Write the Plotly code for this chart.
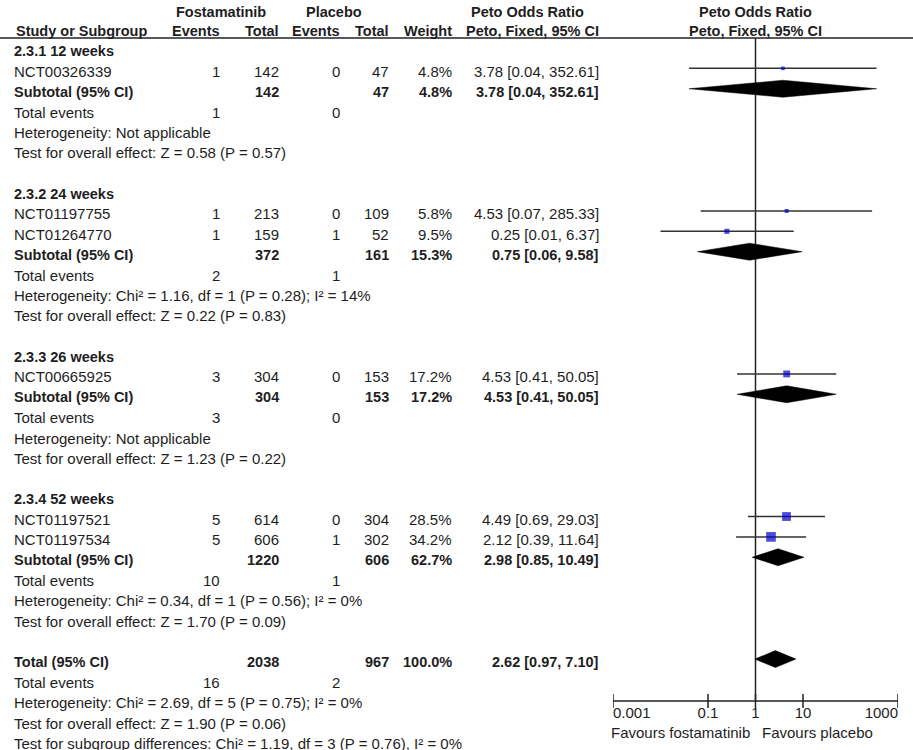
import numpy as np
import plotly.graph_objects as go

# study level data
studies = ["NCT00326339", "NCT01197755", "NCT01264770", "NCT00665925", "NCT01197521", "NCT01197534"]
study_group = [0, 1, 1, 2, 3, 3]
fos_events = [1, 1, 1, 3, 5, 5]
fos_total = [142, 213, 159, 304, 614, 606]
pla_events = [0, 0, 1, 0, 0, 1]
pla_total = [47, 109, 52, 153, 304, 302]
weight = [4.8, 5.8, 9.5, 17.2, 28.5, 34.2]
or_est = [3.78, 4.53, 0.25, 4.53, 4.49, 2.12]
or_lo = [0.04, 0.07, 0.01, 0.41, 0.69, 0.39]
or_hi = [352.61, 285.33, 6.37, 50.05, 29.03, 11.64]

# subgroup data
groups = ["2.3.1 12 weeks", "2.3.2 24 weeks", "2.3.3 26 weeks", "2.3.4 52 weeks"]
sub_fos_total = [142, 372, 304, 1220]
sub_pla_total = [47, 161, 153, 606]
sub_weight = [4.8, 15.3, 17.2, 62.7]
sub_est = [3.78, 0.75, 4.53, 2.98]
sub_lo = [0.04, 0.06, 0.41, 0.85]
sub_hi = [352.61, 9.58, 50.05, 10.49]
sub_fos_events = [1, 2, 3, 10]
sub_pla_events = [0, 1, 0, 1]
sub_het = ["Heterogeneity: Not applicable",
           "Heterogeneity: Chi² = 1.16, df = 1 (P = 0.28); I² = 14%",
           "Heterogeneity: Not applicable",
           "Heterogeneity: Chi² = 0.34, df = 1 (P = 0.56); I² = 0%"]
sub_test = ["Test for overall effect: Z = 0.58 (P = 0.57)",
            "Test for overall effect: Z = 0.22 (P = 0.83)",
            "Test for overall effect: Z = 1.23 (P = 0.22)",
            "Test for overall effect: Z = 1.70 (P = 0.09)"]

# overall
tot_fos_total, tot_pla_total = 2038, 967
tot_weight = 100.0
tot_est, tot_lo, tot_hi = 2.62, 0.97, 7.10
tot_fos_events, tot_pla_events = 16, 2
tot_het = "Heterogeneity: Chi² = 2.69, df = 5 (P = 0.75); I² = 0%"
tot_test = "Test for overall effect: Z = 1.90 (P = 0.06)"
subgroup_diff = "Test for subgroup differences: Chi² = 1.19, df = 3 (P = 0.76), I² = 0%"

tick_vals = [0.001, 0.1, 1, 10, 1000]
tick_text = ["0.001", "0.1", "1", "10", "1000"]

FONT = "Liberation Sans, Arial, sans-serif"
TXT = "#1e1e1e"
FS = 15      # normal text
FS_B = 14.5  # bold text

# row layout (pixels from top)
ROW0, STEP = 51, 20.37
def ypos(i):
    return ROW0 + STEP * i

# column positions (pixels)
X_LABEL = 12
X_EV1, X_TOT1, X_EV2, X_TOT2, X_WT, X_CI = 222, 281, 342, 391, 454, 601

annotations = []
def txt(x, y, s, anchor="left", bold=False):
    size = FS
    if bold:
        s = "<b>%s</b>" % s
        size = FS_B
    annotations.append(dict(x=x, y=y, xref="x", yref="y", text=s, showarrow=False,
                            xanchor=anchor, yanchor="middle",
                            font=dict(family=FONT, size=size, color=TXT)))

def ci_text(e, lo, hi):
    return "%.2f [%.2f, %.2f]" % (e, lo, hi)

fig = go.Figure()

# header
txt(221, 12, "Fostamatinib", "center", True)
txt(334, 12, "Placebo", "center", True)
txt(527, 12, "Peto Odds Ratio", "center", True)
txt(755, 12, "Peto Odds Ratio", "center", True)
txt(14, 31, "Study or Subgroup", "left", True)
txt(X_EV1, 31, "Events", "right", True)
txt(X_TOT1, 31, "Total", "right", True)
txt(X_EV2, 31, "Events", "right", True)
txt(X_TOT2, 31, "Total", "right", True)
txt(X_WT, 31, "Weight", "right", True)
txt(X_CI, 31, "Peto, Fixed, 95% CI", "right", True)
txt(755, 31, "Peto, Fixed, 95% CI", "center", True)

fig.add_trace(go.Scatter(x=[0, 913], y=[38, 38], xaxis="x", yaxis="y", mode="lines",
                         line=dict(color="#222", width=1.5), hoverinfo="skip"))

# vertical line of no effect
fig.add_trace(go.Scatter(x=[1, 1], y=[38, 701], xaxis="x2", mode="lines",
                         line=dict(color="#222", width=1.5), hoverinfo="skip"))

MARK_DY = -3
DIA_H = 8.5
ci_x, ci_y, sq_x, sq_y, sq_s = [], [], [], [], []
diamonds = []

row = 0
for g, name in enumerate(groups):
    txt(X_LABEL, ypos(row), name, "left", True)
    row += 1
    for i in range(len(studies)):
        if study_group[i] != g:
            continue
        y = ypos(row)
        txt(X_LABEL, y, studies[i])
        txt(X_EV1, y, str(fos_events[i]), "right")
        txt(X_TOT1, y, str(fos_total[i]), "right")
        txt(X_EV2, y, str(pla_events[i]), "right")
        txt(X_TOT2, y, str(pla_total[i]), "right")
        txt(X_WT, y, "%.1f%%" % weight[i], "right")
        txt(X_CI, y, ci_text(or_est[i], or_lo[i], or_hi[i]), "right")
        ci_x += [or_lo[i], or_hi[i], None]
        ci_y += [y + MARK_DY, y + MARK_DY, None]
        sq_x.append(or_est[i])
        sq_y.append(y + MARK_DY)
        sq_s.append(1.65 * np.sqrt(weight[i]))
        row += 1
    y = ypos(row)
    txt(X_LABEL, y, "Subtotal (95% CI)", "left", True)
    txt(X_TOT1, y, str(sub_fos_total[g]), "right", True)
    txt(X_TOT2, y, str(sub_pla_total[g]), "right", True)
    txt(X_WT, y, "%.1f%%" % sub_weight[g], "right", True)
    txt(X_CI, y, ci_text(sub_est[g], sub_lo[g], sub_hi[g]), "right", True)
    diamonds.append((sub_lo[g], sub_est[g], sub_hi[g], y + MARK_DY))
    row += 1
    y = ypos(row)
    txt(X_LABEL, y, "Total events")
    txt(X_EV1, y, str(sub_fos_events[g]), "right")
    txt(X_EV2, y, str(sub_pla_events[g]), "right")
    row += 1
    txt(X_LABEL, ypos(row), sub_het[g])
    row += 1
    txt(X_LABEL, ypos(row), sub_test[g])
    row += 2

# overall block
y = ypos(row)
txt(X_LABEL, y, "Total (95% CI)", "left", True)
txt(X_TOT1, y, str(tot_fos_total), "right", True)
txt(X_TOT2, y, str(tot_pla_total), "right", True)
txt(X_WT, y, "%.1f%%" % tot_weight, "right", True)
txt(X_CI, y, ci_text(tot_est, tot_lo, tot_hi), "right", True)
diamonds.append((tot_lo, tot_est, tot_hi, y + MARK_DY))
row += 1
y = ypos(row)
txt(X_LABEL, y, "Total events")
txt(X_EV1, y, str(tot_fos_events), "right")
txt(X_EV2, y, str(tot_pla_events), "right")
row += 1
txt(X_LABEL, ypos(row), tot_het)
row += 1
txt(X_LABEL, ypos(row), tot_test)
row += 1
txt(X_LABEL, ypos(row), subgroup_diff)

# confidence intervals
fig.add_trace(go.Scatter(x=ci_x, y=ci_y, xaxis="x2", mode="lines",
                         line=dict(color="#333", width=1.5), hoverinfo="skip"))
fig.add_trace(go.Scatter(x=sq_x, y=sq_y, xaxis="x2", mode="markers",
                         marker=dict(symbol="square", size=sq_s, color="#0000cc",
                                     line=dict(width=0)), hoverinfo="skip"))

for lo, est, hi, yc in diamonds:
    fig.add_trace(go.Scatter(x=[lo, est, hi, est, lo], y=[yc, yc - DIA_H, yc, yc + DIA_H, yc],
                             xaxis="x2", mode="lines", fill="toself", fillcolor="black",
                             line=dict(color="black", width=0.5), hoverinfo="skip"))

# scale
AX_Y = 701
fig.add_trace(go.Scatter(x=[tick_vals[0], tick_vals[-1]], y=[AX_Y, AX_Y], xaxis="x2",
                         mode="lines", line=dict(color="#222", width=1.5), hoverinfo="skip"))
fig.add_trace(go.Scatter(x=tick_vals, y=[AX_Y] * len(tick_vals), xaxis="x2", mode="markers",
                         marker=dict(symbol="line-ns", size=10,
                                     line=dict(color="#222", width=1.5)), hoverinfo="skip"))
fig.add_trace(go.Scatter(x=tick_vals, y=[AX_Y + 13] * len(tick_vals), xaxis="x2", mode="text",
                         text=tick_text,
                         textposition=["middle right", "middle center", "middle center",
                                       "middle center", "middle left"],
                         textfont=dict(family=FONT, size=FS, color=TXT), hoverinfo="skip"))
txt(752, 732, "Favours fostamatinib", "right")
txt(760, 732, "Favours placebo", "left")

fig.update_layout(
    width=913, height=750,
    margin=dict(l=0, r=0, t=0, b=0),
    paper_bgcolor="white", plot_bgcolor="rgba(0,0,0,0)",
    showlegend=False,
    xaxis=dict(range=[0, 913], domain=[0, 1], visible=False),
    xaxis2=dict(type="log", range=[-3, 3], domain=[613 / 913, 898 / 913],
                anchor="y", visible=False),
    yaxis=dict(range=[750, 0], domain=[0, 1], visible=False),
    annotations=annotations,
)

fig.write_html("out.html", config={"displayModeBar": False},
               post_script="document.body.style.margin='0';")
